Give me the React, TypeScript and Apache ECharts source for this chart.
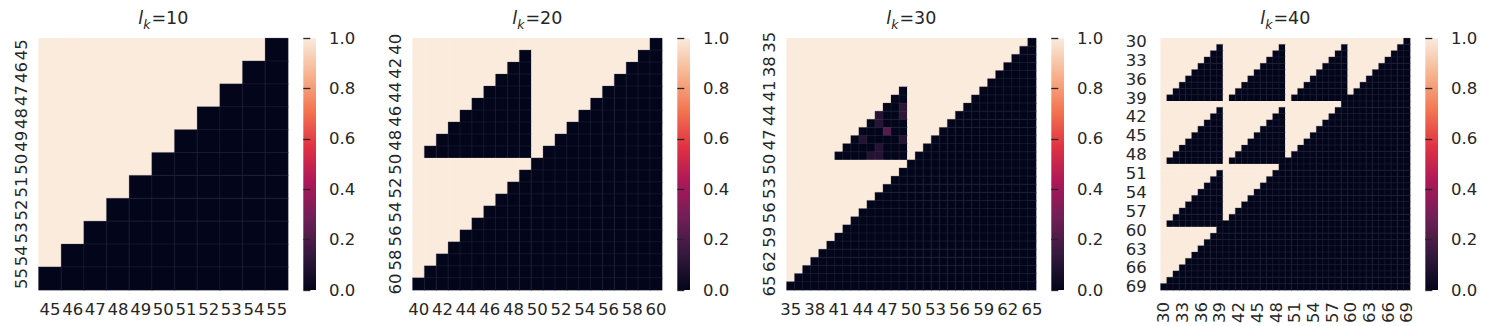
import React, { useEffect, useRef } from 'react';
import * as echarts from 'echarts';

// seaborn "rocket" colormap stops (0 .. 1)
const ROCKET = ['#03051a', '#35193e', '#701f57', '#ad1759', '#e13342', '#f37651', '#f6b48f', '#faebdd'];
const FONT = 'DejaVu Sans';
const TXT = '#262626';
const TICK_FS = 16.5;

// ---------- l_k = 10 ----------
const lk10Labels = ['45', '46', '47', '48', '49', '50', '51', '52', '53', '54', '55'];
// each row: alternating run lengths, starting with value 1 (light), then 0 (dark)
const lk10Rows = [
  [10, 1], [9, 2], [8, 3], [7, 4], [6, 5], [5, 6], [4, 7], [3, 8], [2, 9], [1, 10], [0, 11],
];

// ---------- l_k = 20 ----------
const lk20Labels = ['40', '41', '42', '43', '44', '45', '46', '47', '48', '49', '50', '51', '52', '53', '54', '55', '56', '57', '58', '59', '60'];
const lk20Rows = [
  [20, 1],
  [9, 1, 9, 2], [8, 2, 8, 3], [7, 3, 7, 4], [6, 4, 6, 5], [5, 5, 5, 6],
  [4, 6, 4, 7], [3, 7, 3, 8], [2, 8, 2, 9], [1, 9, 1, 10],
  [10, 11], [9, 12], [8, 13], [7, 14], [6, 15], [5, 16], [4, 17], [3, 18], [2, 19], [1, 20], [0, 21],
];

// ---------- l_k = 30 ----------
const lk30Labels = ['35', '36', '37', '38', '39', '40', '41', '42', '43', '44', '45', '46', '47', '48', '49', '50', '51', '52', '53', '54', '55', '56', '57', '58', '59', '60', '61', '62', '63', '64', '65'];
const lk30Rows = [
  [30, 1], [29, 2], [28, 3], [27, 4], [26, 5], [25, 6],
  [14, 1, 9, 7], [13, 2, 8, 8], [12, 3, 7, 9], [11, 4, 6, 10], [10, 5, 5, 11],
  [9, 6, 4, 12], [8, 7, 3, 13], [7, 8, 2, 14], [6, 9, 1, 15],
  [15, 16], [14, 17], [13, 18], [12, 19], [11, 20], [10, 21], [9, 22], [8, 23],
  [7, 24], [6, 25], [5, 26], [4, 27], [3, 28], [2, 29], [1, 30], [0, 31],
];
// [row label, column label, value] for the cells that are neither 0 nor 1
const lk30Partial = [
  ['43', '49', 0.12], ['44', '49', 0.12], ['44', '46', 0.1], ['45', '46', 0.1],
  ['46', '47', 0.22], ['47', '44', 0.1], ['47', '49', 0.1], ['48', '46', 0.1],
  ['49', '45', 0.1], ['49', '46', 0.1],
];

// ---------- l_k = 40 ----------
const lk40Labels = ['30', '31', '32', '33', '34', '35', '36', '37', '38', '39', '40', '41', '42', '43', '44', '45', '46', '47', '48', '49', '50', '51', '52', '53', '54', '55', '56', '57', '58', '59', '60', '61', '62', '63', '64', '65', '66', '67', '68', '69'];
const lk40Rows = [
  [39, 1],
  [9, 1, 9, 1, 9, 1, 8, 2], [8, 2, 8, 2, 8, 2, 7, 3], [7, 3, 7, 3, 7, 3, 6, 4],
  [6, 4, 6, 4, 6, 4, 5, 5], [5, 5, 5, 5, 5, 5, 4, 6], [4, 6, 4, 6, 4, 6, 3, 7],
  [3, 7, 3, 7, 3, 7, 2, 8], [2, 8, 2, 8, 2, 8, 1, 9], [1, 9, 1, 9, 1, 9, 0, 10],
  [29, 11],
  [9, 1, 9, 1, 8, 12], [8, 2, 8, 2, 7, 13], [7, 3, 7, 3, 6, 14], [6, 4, 6, 4, 5, 15],
  [5, 5, 5, 5, 4, 16], [4, 6, 4, 6, 3, 17], [3, 7, 3, 7, 2, 18], [2, 8, 2, 8, 1, 19],
  [1, 9, 1, 9, 0, 20],
  [19, 21],
  [9, 1, 8, 22], [8, 2, 7, 23], [7, 3, 6, 24], [6, 4, 5, 25], [5, 5, 4, 26],
  [4, 6, 3, 27], [3, 7, 2, 28], [2, 8, 1, 29], [1, 9, 0, 30],
  [9, 31], [8, 32], [7, 33], [6, 34], [5, 35], [4, 36], [3, 37], [2, 38], [1, 39], [0, 40],
];

const colorbarTicks = [0, 0.2, 0.4, 0.6, 0.8, 1.0];

const panels = [
  { title: '10', labels: lk10Labels, rows: lk10Rows, partial: [] as any[], interval: 0, yRotate: 90, xRotate: 0 },
  { title: '20', labels: lk20Labels, rows: lk20Rows, partial: [] as any[], interval: 1, yRotate: 90, xRotate: 0 },
  { title: '30', labels: lk30Labels, rows: lk30Rows, partial: lk30Partial, interval: 2, yRotate: 90, xRotate: 0 },
  { title: '40', labels: lk40Labels, rows: lk40Rows, partial: [] as any[], interval: 2, yRotate: 0, xRotate: 90 },
];

// layout (pixels)
const PLOT_LEFT0 = 38.7;
const STEP = 374;
const PLOT_TOP = 38.3;
const PLOT_W = 249.3;
const PLOT_H = 251.7;
const CB_OFFSET = 264.6;
const CB_W = 12.7;

function buildData(rows: number[][], partial: any[], labels: string[]) {
  const values = new Map<string, number>();
  rows.forEach((runs, r) => {
    let c = 0;
    let v = 1;
    runs.forEach((n) => {
      for (let i = 0; i < n; i++) {
        values.set(c + ',' + r, v);
        c++;
      }
      v = v === 1 ? 0 : 1;
    });
  });
  partial.forEach(([rl, cl, v]) => {
    const r = labels.indexOf(rl);
    const c = labels.indexOf(cl);
    values.set(c + ',' + r, v);
  });
  const data: any[] = [];
  values.forEach((v, key) => {
    const [c, r] = key.split(',').map(Number);
    data.push({
      value: [c, r, v],
      itemStyle: v < 0.5
        ? { borderColor: 'rgba(70,72,100,0.5)', borderWidth: 0.5 }
        : { borderWidth: 0 },
    });
  });
  return data;
}

export default function App() {
  const ref = useRef<HTMLDivElement>(null);
  useEffect(() => {
    if (!ref.current) return;
    const chart = echarts.init(ref.current, undefined, { renderer: 'svg' });

    const grid: any[] = [];
    const xAxis: any[] = [];
    const yAxis: any[] = [];
    const series: any[] = [];
    const graphic: any[] = [];

    panels.forEach((p, k) => {
      const left = PLOT_LEFT0 + STEP * k;
      grid.push({ left, top: PLOT_TOP, width: PLOT_W, height: PLOT_H, containLabel: false });
      xAxis.push({
        type: 'category', gridIndex: k, data: p.labels, position: 'bottom',
        axisLine: { show: false }, axisTick: { show: false }, splitLine: { show: false },
        axisLabel: {
          interval: p.interval, rotate: p.xRotate, fontSize: TICK_FS, color: TXT, fontFamily: FONT,
          margin: p.xRotate ? 12 : 11,
        },
      });
      yAxis.push({
        type: 'category', gridIndex: k, data: p.labels, inverse: true,
        axisLine: { show: false }, axisTick: { show: false }, splitLine: { show: false },
        axisLabel: {
          interval: p.interval, rotate: p.yRotate, fontSize: TICK_FS, color: TXT, fontFamily: FONT,
          margin: p.yRotate ? 9 : 14,
        },
      });
      series.push({
        type: 'heatmap', xAxisIndex: k, yAxisIndex: k,
        data: buildData(p.rows, p.partial, p.labels),
        progressive: 0, emphasis: { disabled: true },
      });

      // colorbar gradient
      const cbLeft = left + CB_OFFSET;
      graphic.push({
        type: 'rect', silent: true,
        shape: { x: cbLeft, y: PLOT_TOP, width: CB_W, height: PLOT_H },
        style: {
          fill: {
            type: 'linear', x: 0, y: 1, x2: 0, y2: 0,
            colorStops: ROCKET.map((c, i) => ({ offset: i / (ROCKET.length - 1), color: c })),
          },
        },
      });
      // title l_k=NN
      graphic.push({
        type: 'text', x: left + PLOT_W / 2, y: 31,
        style: {
          text: `{i|l}{s|k}{n|=${p.title}}`,
          align: 'center', verticalAlign: 'bottom',
          rich: {
            i: { fontSize: 17.5, fontStyle: 'italic', fontFamily: FONT, fill: TXT, verticalAlign: 'bottom', padding: [0, 0, 4, 0] },
            s: { fontSize: 12.5, fontStyle: 'italic', fontFamily: FONT, fill: TXT, verticalAlign: 'bottom', padding: [0, 1, 0, 0] },
            n: { fontSize: 17.5, fontFamily: FONT, fill: TXT, verticalAlign: 'bottom', padding: [0, 0, 4, 0] },
          },
        },
      });
    });

    // colorbar axes
    panels.forEach((p, k) => {
      const left = PLOT_LEFT0 + STEP * k + CB_OFFSET;
      const gi = panels.length + k;
      grid.push({ left, top: PLOT_TOP, width: CB_W, height: PLOT_H, containLabel: false });
      xAxis.push({ type: 'value', gridIndex: gi, show: false, min: 0, max: 1 });
      yAxis.push({
        type: 'value', gridIndex: gi, min: colorbarTicks[0], max: colorbarTicks[colorbarTicks.length - 1],
        interval: 0.2, position: 'right',
        axisLine: { show: false },
        axisTick: { show: true, length: 7, lineStyle: { color: TXT, width: 1.3 } },
        splitLine: { show: false },
        axisLabel: {
          formatter: (v: number) => v.toFixed(1), fontSize: TICK_FS, color: TXT, fontFamily: FONT, margin: 13,
        },
      });
    });

    chart.setOption({
      animation: false,
      backgroundColor: '#ffffff',
      grid, xAxis, yAxis, series, graphic,
      visualMap: {
        type: 'continuous', min: 0, max: 1, seriesIndex: [0, 1, 2, 3], show: false,
        inRange: { color: ROCKET },
      },
    });
    return () => chart.dispose();
  }, []);
  return <div ref={ref} style={{ position: 'fixed', left: 0, top: 0, width: 1494, height: 326 }} />;
}
